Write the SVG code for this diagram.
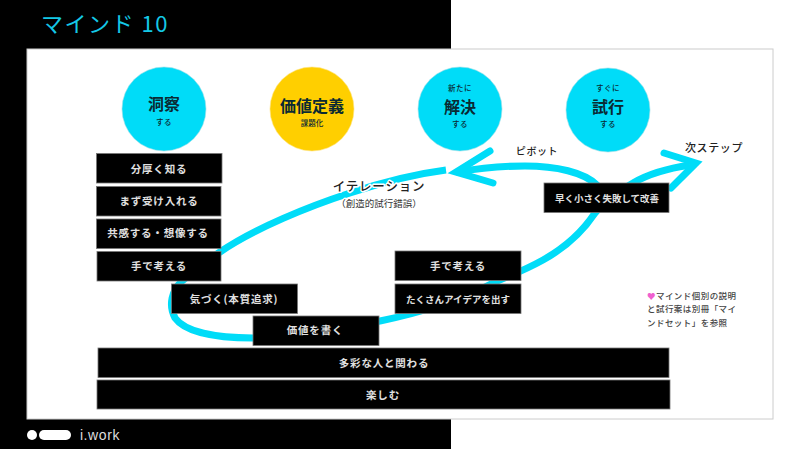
<svg xmlns="http://www.w3.org/2000/svg" width="800" height="449" viewBox="0 0 800 449">
<style>
text{font-family:"Noto Sans CJK JP","Noto Sans",sans-serif;text-anchor:middle}
.b{fill:#000;stroke:#777;stroke-width:.8}
.bt{fill:#e0e0e0;font-size:10.500px;font-weight:700;letter-spacing:.8px}
.nar{font-size:9.500px;letter-spacing:0}
.c{stroke:#9adfe8;stroke-width:.6}
.big{font-size:16px;font-weight:700;fill:#0a2a33}
.sm{font-size:7.500px;font-weight:500;fill:#0a2a33;letter-spacing:.5px}
.lb{font-size:11px;font-weight:500;fill:#222;letter-spacing:.6px}
.ln{fill:none;stroke:#00dcf8;stroke-width:7}
.halo{paint-order:stroke;stroke:#fff;stroke-width:3px;stroke-linejoin:round}
.note{font-size:8.500px;font-weight:500;fill:#444;text-anchor:start;letter-spacing:.45px}
</style>
<rect width="800" height="449" fill="#fff"/>
<rect width="451" height="449" fill="#000"/>
<rect x="27" y="49" width="746" height="370" fill="#fff" stroke="#ccc"/>
<g id="title"><text x="105" y="32" style="font-size:22px;font-weight:400;fill:#14c8e6;letter-spacing:1.500px">マインド 10</text></g>
<g id="connectors">
<path class="ln" d="M446 170 C415 174 380 183 350 193 C310 206 255 228 220 252 C205 262 195 270 182 281 C172 290 168 305 175 318 C185 332 215 338 253 338 C300 338 350 330 380 321 C420 313 460 300 495 282 C510 276 525 270 543 260 C570 245 585 228 595 213 C605 200 620 190 633 183 C650 173 670 168 690 165"/>
<path class="ln" stroke-linecap="round" d="M598 186 C585 172 555 166 525 166 C500 166 480 168 458 172"/>
<path class="ln" stroke-linecap="round" d="M490 151 L456 172 L493 183"/>
<path class="ln" stroke-linecap="round" d="M664 153 L696 163 L671 188"/>
</g>
<g id="n1"><circle class="c" cx="164" cy="109" r="42" fill="#00dcf8"/><text class="big" x="164" y="110">洞察</text><text class="sm" x="164" y="125">する</text></g>
<g id="n2"><circle class="c" cx="312" cy="109" r="42" fill="#ffcf00" style="stroke:#ffe27a"/><text class="big" x="312" y="112">価値定義</text><text class="sm" x="312" y="126" style="letter-spacing:0">課題化</text></g>
<g id="n3"><circle class="c" cx="460" cy="109" r="42" fill="#00dcf8"/><text class="sm" x="460" y="91">新たに</text><text class="big" x="460" y="113">解決</text><text class="sm" x="460" y="127">する</text></g>
<g id="n4"><circle class="c" cx="608" cy="110" r="42" fill="#00dcf8"/><text class="sm" x="608" y="91">すぐに</text><text class="big" x="608" y="113">試行</text><text class="sm" x="608" y="127">する</text></g>
<g id="b1"><rect class="b" x="96.500" y="153.500" width="125.500" height="29.500"/><text class="bt" x="159" y="173">分厚く知る</text></g>
<g id="b2"><rect class="b" x="96.500" y="186.500" width="124.500" height="29.500"/><text class="bt" x="159" y="205">まず受け入れる</text></g>
<g id="b3"><rect class="b" x="96.500" y="219" width="124.500" height="29.500"/><text class="bt" x="158" y="237">共感する・想像する</text></g>
<g id="b4"><rect class="b" x="97" y="251.500" width="124" height="29.500"/><text class="bt" x="159" y="270">手で考える</text></g>
<g id="b5"><rect class="b" x="171.500" y="284" width="126" height="29.500"/><text class="bt" x="234" y="302.500">気づく(本質追求)</text></g>
<g id="b6"><rect class="b" x="253" y="316" width="126" height="29.500"/><text class="bt" x="315" y="334">価値を書く</text></g>
<g id="b7"><rect class="b" x="395" y="251" width="126" height="29.500"/><text class="bt" x="458" y="270">手で考える</text></g>
<g id="b8"><rect class="b" x="395" y="284" width="126" height="29.500"/><text class="bt nar" x="458" y="302.500">たくさんアイデアを出す</text></g>
<g id="b9"><rect class="b" x="544" y="183" width="125" height="29.500"/><text class="bt nar" x="607" y="201.500">早く小さく失敗して改善</text></g>
<g id="b10"><rect class="b" x="98" y="348" width="571" height="29.500"/><text class="bt" x="384" y="367">多彩な人と関わる</text></g>
<g id="b11"><rect class="b" x="97" y="380" width="573" height="29"/><text class="bt" x="383" y="399">楽しむ</text></g>
<g id="l1"><text class="lb halo" x="379" y="191" style="font-size:12.500px;letter-spacing:.8px">イテレーション</text><text class="halo" x="379" y="207" style="font-size:9.500px;fill:#333">（創造的試行錯誤）</text></g>
<g id="l2"><text class="lb" x="537" y="155" style="font-size:10px">ピボット</text></g>
<g id="l3"><text class="lb" x="714" y="152">次ステップ</text></g>
<g id="note"><text class="note" x="647" y="299"><tspan fill="#f060d0">♥</tspan>マインド個別の説明</text><text class="note" x="647" y="312">と試行案は別冊「マイ</text><text class="note" x="647" y="325.500">ンドセット」を参照</text></g>
<g id="logo"><circle cx="32" cy="435" r="5" fill="#fff"/><rect x="39" y="430" width="32" height="10" rx="5" fill="#fff"/><text x="100" y="440" style="font-family:'Liberation Sans',sans-serif;font-size:14px;fill:#ddd;letter-spacing:.6px">i.work</text></g>
</svg>
